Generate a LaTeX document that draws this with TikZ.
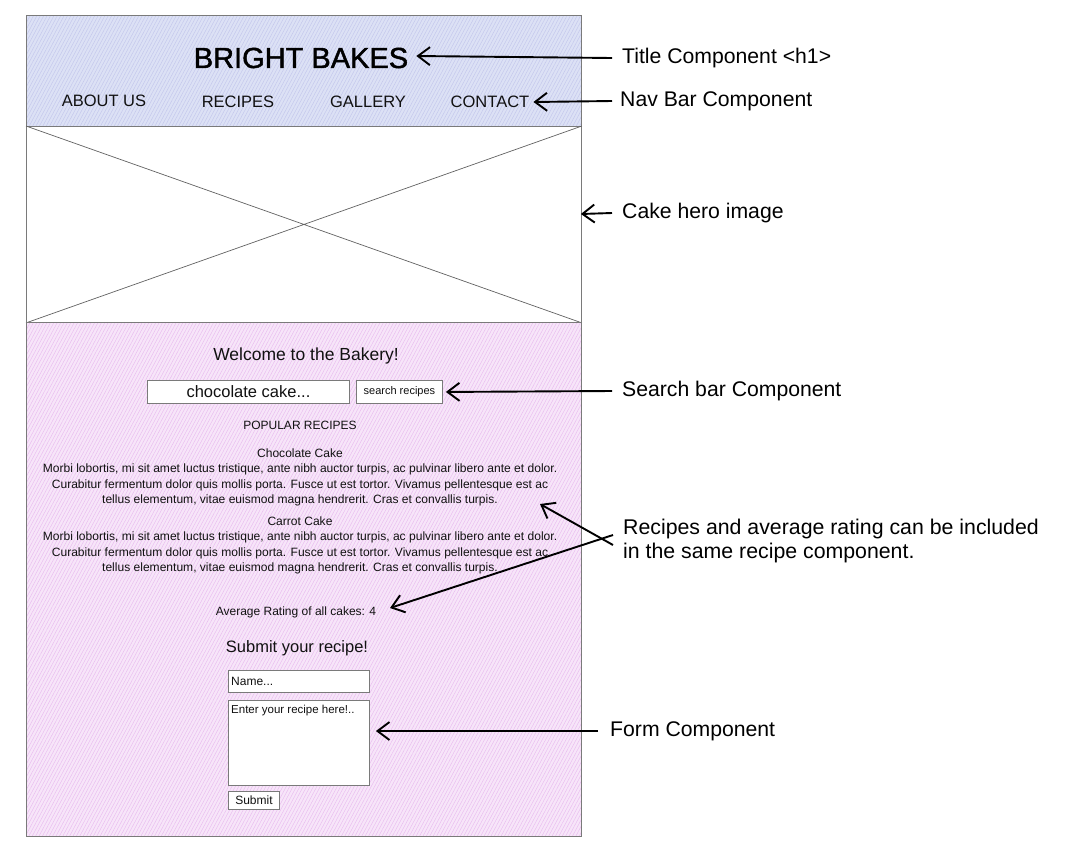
\documentclass[tikz,border=0pt]{standalone}
\usepackage{fontspec}
\setmainfont{Liberation Sans}
\newfontfamily\markerfont[FakeBold=1.6]{Liberation Sans}
\usetikzlibrary{arrows.meta,patterns.meta}
\definecolor{headfill}{HTML}{DCE1F5}
\definecolor{headhatch}{HTML}{C3C6EC}
\definecolor{bodyfill}{HTML}{F7E5F9}
\definecolor{bodyhatch}{HTML}{E8BCEF}
\definecolor{framegray}{HTML}{7A7A7A}
\definecolor{inkgray}{HTML}{111111}
\newcommand{\fs}[2]{\fontsize{#1}{#2}\selectfont}
\tikzset{
  panel/.style={draw=framegray, line width=0.9pt, inner sep=0pt, anchor=north west},
  field/.style={draw=framegray, fill=white, line width=0.9pt, inner sep=0pt, anchor=north west},
  txt/.style={text=inkgray, inner sep=0pt},
  note/.style={text=black, inner sep=0pt, anchor=west, font=\fs{21.2}{25}},
  callout/.style={line width=1.9pt, -{Straight Barb[length=12pt,width=18pt,line width=1.9pt]}},
}
\begin{document}
\begin{tikzpicture}[x=1pt,y=-1pt]
\useasboundingbox[fill=white] (0,0) rectangle (1065,852);

% header band
\node (header) [panel, minimum width=555pt, minimum height=111pt, fill=headfill] at (26,15) {};
\path[pattern={Lines[angle=62,distance=3pt,line width=0.45pt]}, pattern color=headhatch]
  (header.north west) rectangle (header.south east);
\draw[framegray, line width=0.9pt] (header.north west) rectangle (header.south east);

% hero image placeholder
\node (hero) [panel, minimum width=555pt, minimum height=196pt, fill=white] at (26,126) {};
\draw[framegray!80!black, line width=0.7pt] (hero.north west) -- (hero.south east)
      (hero.south west) -- (hero.north east);

% page body
\node (body) [panel, minimum width=555pt, minimum height=514pt, fill=bodyfill] at (26,322) {};
\path[pattern={Lines[angle=62,distance=3pt,line width=0.45pt]}, pattern color=bodyhatch]
  (body.north west) rectangle (body.south east);
\draw[framegray, line width=0.9pt] (body.north west) rectangle (body.south east);

% header content
\node (title) [txt, font=\markerfont\fs{29}{34}, text=black] at (301,58) {BRIGHT BAKES};
\node (about) [txt, font=\fs{16.5}{19}] at (104,101) {ABOUT US};
\node (recipes) [txt, font=\fs{16.5}{19}] at (238,102) {RECIPES};
\node (gallery) [txt, font=\fs{16.5}{19}] at (368,102) {GALLERY};
\node (contact) [txt, font=\fs{16.5}{19}] at (490,102) {CONTACT};

% body content
\node (welcome) [txt, font=\fs{17.5}{20}] at (306,356) {Welcome to the Bakery!};
\node (search) [field, minimum width=202pt, minimum height=23pt] at (147,380) {};
\node [txt, font=\fs{16.5}{19}] at (search.center) {chocolate cake...};
\node (searchbtn) [field, minimum width=86pt, minimum height=23pt] at (356,380) {};
\node [txt, font=\fs{11}{13}] at (searchbtn.center) {search recipes};
\node (popular) [txt, font=\fs{12}{14}] at (300,425) {POPULAR RECIPES};

\node (choc) [txt, font=\fs{12.05}{15.5}, align=center, anchor=north] at (300,448.5)
  {Chocolate Cake\\
   Morbi lobortis, mi sit amet luctus tristique, ante nibh auctor turpis, ac pulvinar libero ante et dolor.\\
   Curabitur fermentum dolor quis mollis porta. Fusce ut est tortor. Vivamus pellentesque est ac\\
   tellus elementum, vitae euismod magna hendrerit. Cras et convallis turpis.};
\node (carrot) [txt, font=\fs{12.05}{15.5}, align=center, anchor=north] at (300,516.5)
  {Carrot Cake\\
   Morbi lobortis, mi sit amet luctus tristique, ante nibh auctor turpis, ac pulvinar libero ante et dolor.\\
   Curabitur fermentum dolor quis mollis porta. Fusce ut est tortor. Vivamus pellentesque est ac\\
   tellus elementum, vitae euismod magna hendrerit. Cras et convallis turpis.};

\node (rating) [txt, font=\fs{12}{14}] at (296,612) {Average Rating of all cakes: 4};
\node (submithead) [txt, font=\fs{16.5}{19}] at (297,648) {Submit your recipe!};

\node (name) [field, minimum width=141pt, minimum height=22pt] at (228,670) {};
\node [txt, font=\fs{12}{14}, anchor=west] at ([xshift=3pt]name.west) {Name...};
\node (recipebox) [field, minimum width=141pt, minimum height=85pt] at (228,700) {};
\node [txt, font=\fs{11.5}{13}, anchor=north west] at ([xshift=3pt,yshift=-5pt]recipebox.north west) {Enter your recipe here!..};
\node (submit) [field, minimum width=51pt, minimum height=18pt] at (228,791) {};
\node [txt, font=\fs{12}{14}] at (submit.center) {Submit};

% annotations
\node (ntitle) [note] at (622,58) {Title Component <h1>};
\node (nnav) [note] at (620,101) {Nav Bar Component};
\node (nhero) [note] at (622,213) {Cake hero image};
\node (nsearch) [note] at (622,391) {Search bar Component};
\node (nrecipe) [note, align=left, font=\fs{21.3}{24}] at (623,541)
  {Recipes and average rating can be included\\in the same recipe component.};
\node (nform) [note] at (610,731) {Form Component};

\coordinate (recipetip) at (540,504);
\coordinate (ratingtip) at (390,608);

\draw[callout] ([xshift=-10pt]ntitle.west) -- ([xshift=8pt,yshift=2pt]title.east);
\draw[callout] ([xshift=-8pt]nnav.west) -- ([xshift=4pt]contact.east);
\draw[callout] ([xshift=-10pt]nhero.west) -- ([xshift=-1pt,yshift=-1pt]hero.east |- nhero.west);
\draw[callout] ([xshift=-10pt]nsearch.west) -- ([xshift=3pt]searchbtn.east);
\draw[callout] ([xshift=-10pt,yshift=-4pt]nrecipe.west) -- (recipetip);
\draw[callout] ([xshift=-10pt,yshift=6pt]nrecipe.west) -- (ratingtip);
\draw[callout] ([xshift=-12pt]nform.west) -- ([xshift=6pt]recipebox.east |- nform.west);
\end{tikzpicture}
\end{document}
